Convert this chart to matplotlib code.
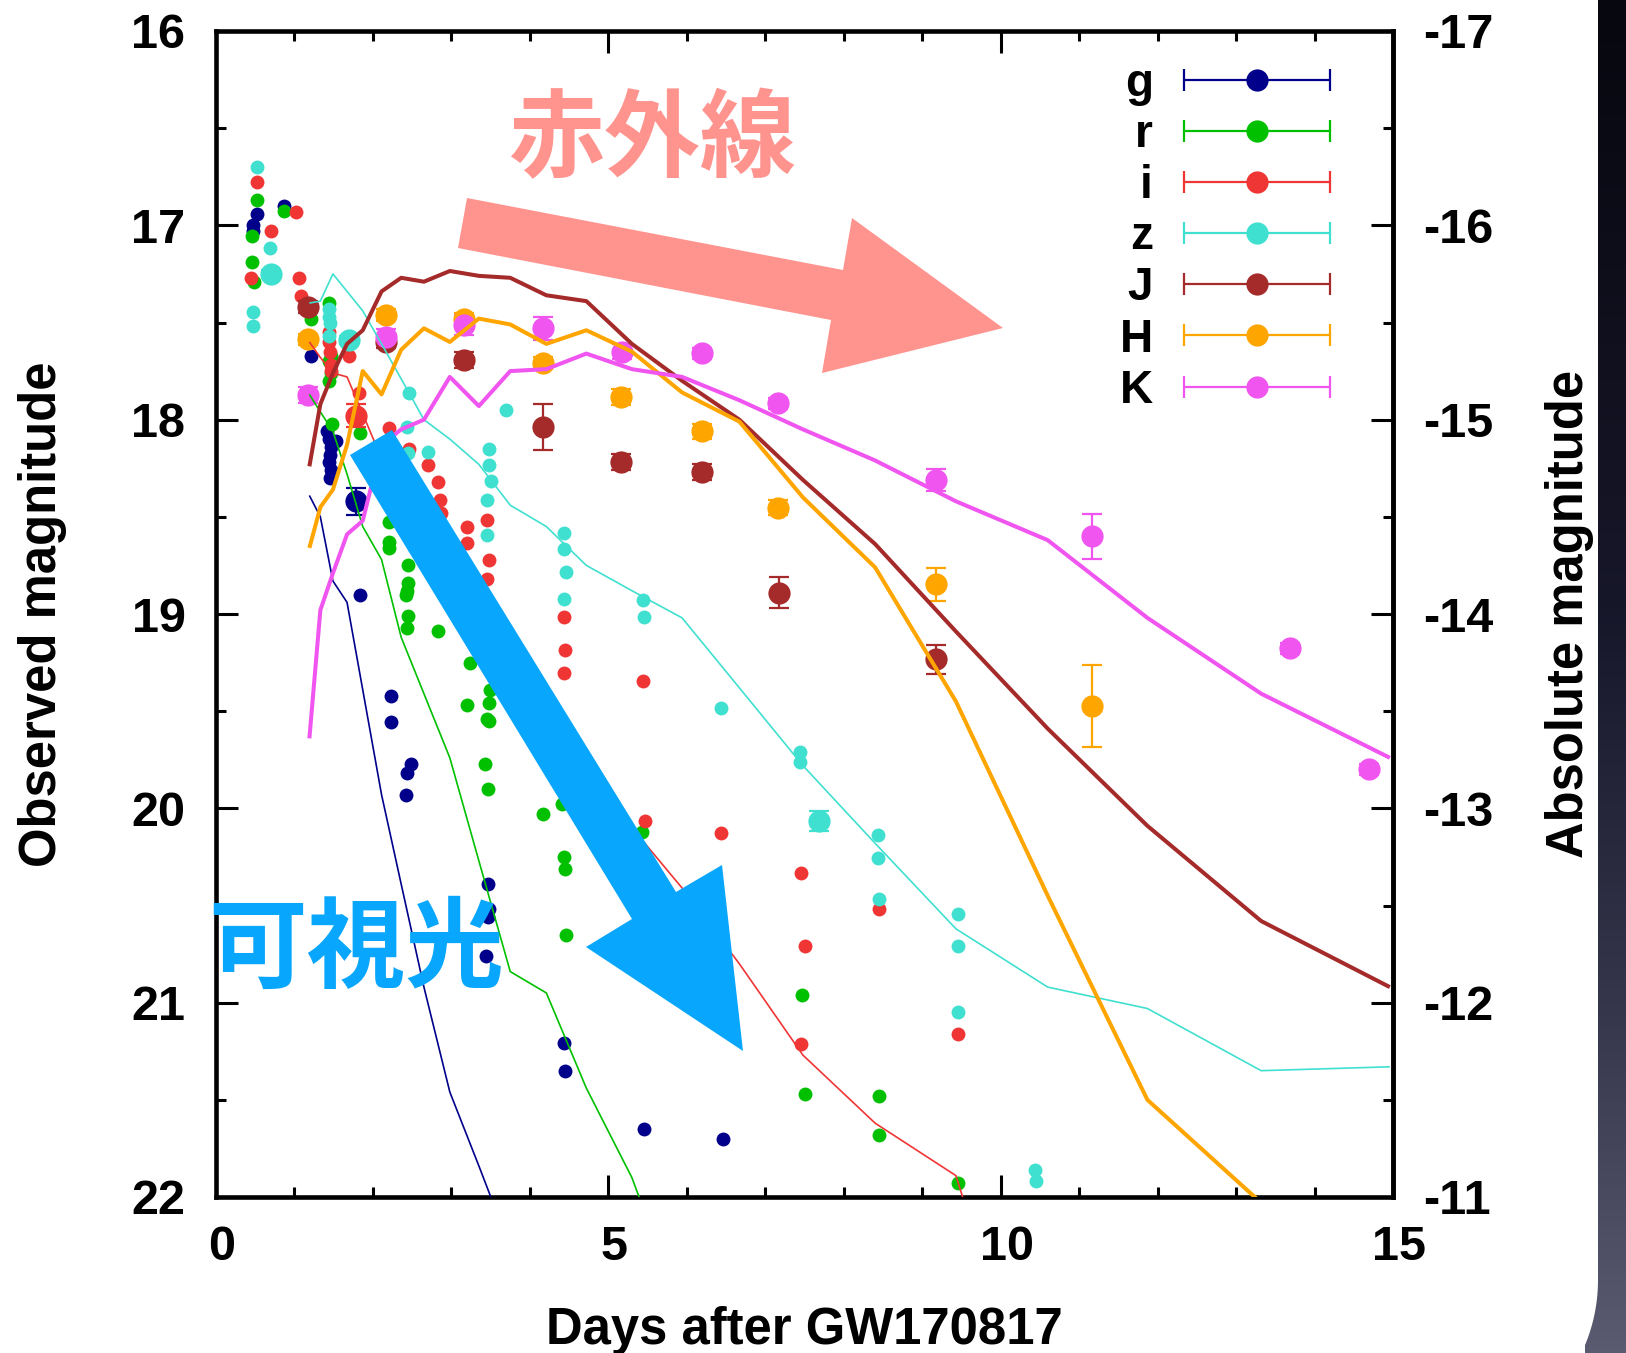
import numpy as np
import matplotlib
matplotlib.use('Agg')
import matplotlib.pyplot as plt
import matplotlib.ticker as mticker
import matplotlib.transforms as mtransforms
from matplotlib.container import ErrorbarContainer
from matplotlib.lines import Line2D
from matplotlib.collections import LineCollection
from matplotlib.legend_handler import HandlerErrorbar
from matplotlib.patches import Polygon
from matplotlib.colors import LinearSegmentedColormap

plt.rcParams['font.family'] = ['Liberation Sans', 'DejaVu Sans']
plt.rcParams['font.weight'] = 'bold'
plt.rcParams['axes.unicode_minus'] = False

# ---------------- data ----------------
bands = ['g', 'r', 'i', 'z', 'J', 'H', 'K']
colors = {'g': '#00008b', 'r': '#00c000', 'i': '#f03535', 'z': '#40e0d0',
          'J': '#a52a2a', 'H': '#ffa500', 'K': '#f055f0'}

# model light curves (days, magnitude)
t_model = [1.19, 1.33, 1.49, 1.67, 1.87, 2.11, 2.36, 2.65, 2.98, 3.35, 3.75, 4.21,
           4.72, 5.30, 5.94, 6.67, 7.48, 8.40, 9.43, 10.60, 11.87, 13.32, 14.96]
g_model = [18.39, 18.50, 18.83, 18.94, 19.39, 19.93, 20.39, 20.92, 21.46, 21.84, 22.26]
r_model = [17.87, 17.96, 18.06, 18.28, 18.55, 18.72, 19.12, 19.41, 19.74, 20.27, 20.84,
           20.95, 21.44, 21.90, 22.60]
i_model = [17.60, 17.68, 17.76, 17.78, 17.97, 18.20, 18.40, 18.60, 18.80, 19.00, 19.25,
           19.50, 19.80, 20.10, 20.41, 20.80, 21.27, 21.62, 21.89, 23.40]
z_model = [17.40, 17.39, 17.25, 17.34, 17.44, 17.61, 17.79, 18.00, 18.10, 18.23, 18.44,
           18.55, 18.75, 18.88, 19.02, 19.38, 19.78, 20.18, 20.62, 20.92, 21.03, 21.35, 21.33]
J_model = [18.24, 17.92, 17.76, 17.61, 17.54, 17.34, 17.27, 17.29, 17.235, 17.26, 17.27,
           17.36, 17.39, 17.61, 17.80, 18.00, 18.31, 18.64, 19.09, 19.59, 20.09, 20.58, 20.92]
H_model = [18.66, 18.45, 18.36, 18.13, 17.75, 17.87, 17.64, 17.53, 17.60, 17.48, 17.51,
           17.61, 17.54, 17.65, 17.86, 18.01, 18.40, 18.76, 19.45, 20.45, 21.50, 22.03]
K_model = [19.64, 18.98, 18.79, 18.59, 18.52, 18.13, 18.05, 18.00, 17.78, 17.93, 17.75,
           17.74, 17.66, 17.74, 17.78, 17.90, 18.05, 18.21, 18.42, 18.62, 19.02, 19.41, 19.74]

# optical photometry (small points)
g_day = [0.518, 0.476, 0.467, 0.866, 1.211, 1.42, 1.44, 1.46, 1.45, 1.44, 1.47, 1.45, 1.53,
         1.835, 2.23, 2.23, 2.485, 2.43, 2.42, 3.465, 3.48, 3.465, 3.44, 4.44, 4.45, 5.45, 6.46]
g_mag = [16.94, 17.00, 17.03, 16.90, 17.67, 18.06, 18.10, 18.14, 18.18, 18.22, 18.26, 18.30, 18.11,
         18.90, 19.42, 19.555, 19.77, 19.82, 19.93, 20.39, 20.52, 20.56, 20.76, 21.21, 21.35, 21.65, 21.70]
r_day = [0.518, 0.459, 0.871, 0.459, 0.489, 1.211, 1.444, 1.444, 1.466, 1.466, 1.444, 1.474,
         1.835, 2.209, 2.209, 2.20, 2.443, 2.443, 2.43, 2.42, 2.443, 2.43, 2.825, 3.237, 3.195,
         3.492, 3.483, 3.45, 3.483, 3.432, 3.462, 4.17, 4.41, 4.44, 4.45, 4.465, 5.43, 7.47,
         7.50, 8.45, 8.45, 9.45]
r_mag = [16.87, 17.055, 16.925, 17.19, 17.29, 17.48, 17.40, 17.70, 17.67, 17.76, 17.80, 18.02,
         18.07, 18.525, 18.63, 18.66, 18.75, 18.84, 18.88, 18.90, 19.01, 19.07, 19.09, 19.25, 19.47,
         19.39, 19.46, 19.54, 19.55, 19.77, 19.90, 20.03, 19.98, 20.25, 20.31, 20.65, 20.12, 20.96,
         21.47, 21.48, 21.68, 21.93]
i_day = [0.518, 1.02, 0.701, 0.446, 1.054, 1.083, 1.44, 1.44, 1.45, 1.46, 1.47, 1.70, 1.827,
         2.209, 2.455, 2.698, 2.825, 2.855, 2.868, 3.195, 3.195, 3.45, 3.475, 3.45, 4.439, 4.452,
         4.439, 5.44, 5.47, 6.44, 7.45, 7.50, 7.45, 8.45, 9.46]
i_mag = [16.775, 16.93, 17.03, 17.27, 17.27, 17.365, 17.55, 17.60, 17.65, 17.72, 17.75, 17.67,
         17.865, 18.045, 18.15, 18.234, 18.32, 18.414, 18.48, 18.554, 18.633, 18.517, 18.72, 18.82,
         19.014, 19.186, 19.306, 19.345, 20.065, 20.126, 20.335, 20.707, 21.215, 20.519, 21.163]
z_day = [0.518, 0.692, 0.467, 0.467, 1.44, 1.44, 1.45, 1.44, 2.455, 2.43, 2.45, 2.698, 3.696,
         3.483, 3.475, 3.505, 3.45, 3.45, 4.439, 4.439, 4.46, 4.439, 5.44, 5.46, 6.44, 7.44, 7.44,
         8.44, 8.44, 8.45, 9.45, 9.45, 9.45, 10.44, 10.45]
z_mag = [16.70, 17.115, 17.445, 17.52, 17.43, 17.47, 17.50, 17.57, 17.865, 18.036, 18.17, 18.165,
         17.95, 18.153, 18.234, 18.314, 18.414, 18.594, 18.585, 18.663, 18.786, 18.925, 18.93,
         19.017, 19.483, 19.71, 19.76, 20.135, 20.258, 20.468, 20.546, 20.707, 21.047, 21.862, 21.918]

# points with error bars (large symbols)
gE_day = [1.78]
gE_mag = [18.42]
gE_err = [0.07]
iE_day = [1.783]
iE_mag = [17.98]
iE_err = [0.06]
zE_day = [0.70, 1.70, 7.69]
zE_mag = [17.25, 17.59, 20.065]
zE_err = [0.02, 0.02, 0.05]
J_day = [1.17, 2.165, 3.158, 4.17, 5.165, 6.19, 7.17, 9.17]
J_mag = [17.42, 17.60, 17.693, 18.037, 18.217, 18.268, 18.89, 19.234]
J_err = [0.03, 0.03, 0.04, 0.12, 0.04, 0.04, 0.08, 0.077]
H_day = [1.17, 2.165, 3.158, 4.17, 5.165, 6.19, 7.16, 9.17, 11.16]
H_mag = [17.587, 17.462, 17.48, 17.71, 17.882, 18.06, 18.453, 18.848, 19.474]
H_err = [0.03, 0.03, 0.03, 0.03, 0.04, 0.04, 0.04, 0.085, 0.21]
K_day = [1.17, 2.165, 3.158, 4.17, 5.17, 6.19, 7.16, 9.175, 11.17, 13.69, 14.69]
K_mag = [17.873, 17.573, 17.513, 17.53, 17.65, 17.659, 17.916, 18.311, 18.60, 19.177, 19.80]
K_err = [0.04, 0.04, 0.05, 0.06, 0.04, 0.03, 0.03, 0.055, 0.115, 0.03, 0.03]

x_ticks = [0, 5, 10, 15]
y_ticks = [16, 17, 18, 19, 20, 21, 22]
abs_ticks = [-17, -16, -15, -14, -13, -12, -11]
dist_mod = 33.0

label_ir = '赤外線'
label_vis = '可視光'
xlabel = 'Days after GW170817'
ylabel = 'Observed magnitude'
ylabel2 = 'Absolute magnitude'

models = {'g': g_model, 'r': r_model, 'i': i_model, 'z': z_model,
          'J': J_model, 'H': H_model, 'K': K_model}
small = {'g': (g_day, g_mag), 'r': (r_day, r_mag), 'i': (i_day, i_mag), 'z': (z_day, z_mag)}
big = {'g': (gE_day, gE_mag, gE_err), 'i': (iE_day, iE_mag, iE_err), 'z': (zE_day, zE_mag, zE_err),
       'J': (J_day, J_mag, J_err), 'H': (H_day, H_mag, H_err), 'K': (K_day, K_mag, K_err)}

# ---------------- figure ----------------
W, H = 1626, 1353
fig = plt.figure(figsize=(W / 100, H / 100), dpi=100, facecolor='white')


def fp(x, y):
    return (x / W, 1 - y / H)


# slide background strip on the right edge
bg = fig.add_axes([0, 0, 1, 1], zorder=-5)
bg.set_xlim(0, W)
bg.set_ylim(H, 0)
bg.axis('off')
cmap = LinearSegmentedColormap.from_list('bgstrip', [(0.0, '#07070f'), (0.45, '#17172a'),
                                                     (0.75, '#36364c'), (1.0, '#5a5a70')])
grad = np.linspace(0, 1, 256).reshape(-1, 1)
bg.imshow(grad, cmap=cmap, extent=[1585, W, H, 0], aspect='auto', zorder=1)
R_c, y_c, x_e = 170.0, 1280.0, 1598.0
theta = np.linspace(0, np.arcsin((H - y_c) / R_c), 24)
corner = [(1580, -5), (x_e, -5), (x_e, y_c)] + \
         [(x_e - R_c + R_c * np.cos(t), y_c + R_c * np.sin(t)) for t in theta] + [(1580, H + 5)]
bg.add_patch(Polygon(corner, closed=True, fc='white', ec='none', zorder=2))

ax = fig.add_axes([216 / W, 1 - 1197 / H, (1393 - 216) / W, (1197 - 31) / H])
ax.set_xlim(0, 15)
ax.set_ylim(22, 16)

thick = {'J', 'H', 'K'}
for b in bands:
    m = models[b]
    ax.plot(t_model[:len(m)], m, color=colors[b], lw=2.9 if b in thick else 1.2,
            zorder=3, solid_capstyle='butt')

for b in bands:
    c = colors[b]
    if b in small:
        d, mg = small[b]
        ax.plot(d, mg, 'o', ms=10, color=c, mec='none', zorder=2)
    if b in big:
        d, mg, e = big[b]
        ax.errorbar(d, mg, yerr=e, fmt='o', ms=16, color=c, mec='none', ecolor=c,
                    elinewidth=1.6, capsize=7.5, capthick=1.6, zorder=2)

# axes styling
spw = 3.3
for s in ax.spines.values():
    s.set_linewidth(spw)
ax.xaxis.set_major_locator(mticker.FixedLocator(x_ticks))
ax.xaxis.set_minor_locator(mticker.MultipleLocator(1))
ax.yaxis.set_major_locator(mticker.FixedLocator(y_ticks))
ax.yaxis.set_minor_locator(mticker.MultipleLocator(0.5))
ax.tick_params(axis='both', which='major', direction='in', length=16, width=2.2,
               labelsize=35, top=True, right=False)
ax.tick_params(axis='both', which='minor', direction='in', length=7.5, width=2.2,
               top=True, right=False)
ax.tick_params(axis='y', which='major', pad=22)
ax.tick_params(axis='x', which='major', pad=20)

sec = ax.secondary_yaxis('right', functions=(lambda m: m - dist_mod, lambda a: a + dist_mod))
sec.yaxis.set_major_locator(mticker.FixedLocator(abs_ticks))
sec.yaxis.set_minor_locator(mticker.MultipleLocator(0.5))
sec.tick_params(axis='y', which='major', direction='in', length=16, width=2.2, labelsize=35, pad=22)
sec.tick_params(axis='y', which='minor', direction='in', length=7.5, width=2.2)
sec.spines['right'].set_linewidth(spw)
for lab in ax.get_xticklabels() + ax.get_yticklabels() + sec.get_yticklabels():
    lab.set_fontweight('bold')
shift = mtransforms.ScaledTranslation(6 / 100, 0, fig.dpi_scale_trans)
for lab in ax.get_xticklabels():
    lab.set_transform(lab.get_transform() + shift)

ax.set_xlabel(xlabel, fontsize=36.5, fontweight='bold', labelpad=26)
ax.set_ylabel(ylabel, fontsize=36.5, fontweight='bold', labelpad=46)
sec.set_ylabel(ylabel2, fontsize=36.5, fontweight='bold', labelpad=37)

# legend with horizontal error-bar samples
handles = []
for b in bands:
    c = colors[b]
    ln = Line2D([], [], color=c, marker='o', ms=16, mec='none', linestyle='none')
    cap = Line2D([], [], color=c, marker='|', ms=16, mew=1.6, linestyle='none')
    bar = LineCollection([], colors=c, linewidths=1.6)
    handles.append(ErrorbarContainer((ln, [cap, cap], [bar]), has_xerr=True, has_yerr=False, label=b))
leg = ax.legend(handles=handles, labels=bands, loc='upper right',
                bbox_to_anchor=fp(1330, 62), bbox_transform=fig.transFigure,
                frameon=False, markerfirst=False, handlelength=3.19, handletextpad=0.68,
                labelspacing=0.155, borderpad=0, borderaxespad=0, fontsize=33,
                handler_map={ErrorbarContainer: HandlerErrorbar(xerr_size=1.59)})
for t in leg.get_texts():
    t.set_fontweight('bold')

# annotation arrows and labels
salmon = '#ff948f'
blue = '#08a6fc'
ir_arrow = [(467, 198), (843, 270), (852, 218), (1003, 328), (822, 373), (831, 320), (458, 248)]
vis_arrow = [(350, 455), (392, 430), (676, 892), (722, 865), (743, 1051), (586, 947), (632, 919)]
fig.add_artist(Polygon([fp(*p) for p in ir_arrow], closed=True, fc=salmon, ec='none',
                       transform=fig.transFigure, zorder=5))
fig.add_artist(Polygon([fp(*p) for p in vis_arrow], closed=True, fc=blue, ec='none',
                       transform=fig.transFigure, zorder=5))
fig.text(*fp(508, 141), label_ir, fontsize=69, color=salmon, ha='left', va='center',
         family=['Noto Sans CJK JP', 'DejaVu Sans'], fontweight='bold', zorder=6)
fig.text(*fp(208, 951), label_vis, fontsize=71, color=blue, ha='left', va='center',
         family=['Noto Sans CJK JP', 'DejaVu Sans'], fontweight='bold', zorder=6)

fig.savefig('out.png', dpi=100, facecolor='white')
